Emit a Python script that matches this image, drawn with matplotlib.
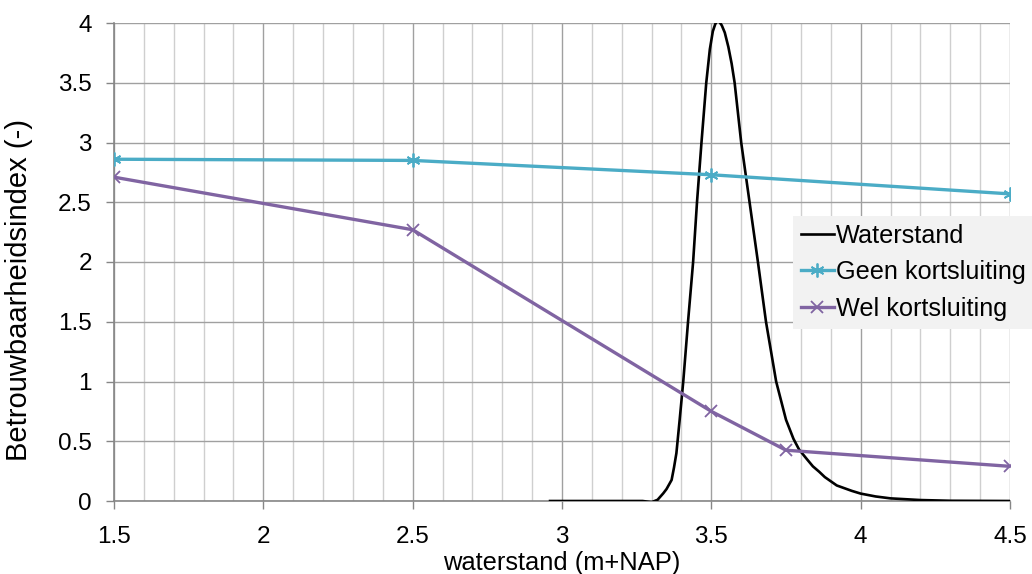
import numpy as np
import matplotlib
matplotlib.use("Agg")
import matplotlib.pyplot as plt
from matplotlib.ticker import MultipleLocator, FuncFormatter

plt.rcParams['font.family'] = ['Liberation Sans', 'DejaVu Sans']

# waterstand distributie
ws_x = [2.96, 3.0, 3.1, 3.2, 3.27, 3.30, 3.32, 3.339, 3.35, 3.367, 3.375, 3.383, 3.394,
        3.406, 3.422, 3.439, 3.452, 3.467, 3.483, 3.495, 3.505, 3.513, 3.52, 3.527,
        3.535, 3.545, 3.557, 3.568, 3.578, 3.60, 3.628, 3.656, 3.683, 3.717, 3.75,
        3.775, 3.794, 3.82, 3.84, 3.861, 3.88, 3.92, 3.97, 4.0, 4.05, 4.1, 4.2, 4.3, 4.5]
ws_y = [0, 0, 0, 0, 0, -0.01, 0.01, 0.064, 0.10, 0.176, 0.28, 0.40, 0.68,
        1.0, 1.5, 2.0, 2.5, 3.0, 3.5, 3.78, 3.93, 3.99, 4.02, 4.01,
        3.98, 3.92, 3.80, 3.66, 3.5, 3.0, 2.5, 2.0, 1.5, 1.0, 0.68,
        0.52, 0.43, 0.35, 0.29, 0.245, 0.2, 0.13, 0.085, 0.062, 0.038, 0.022, 0.008, 0.002, 0]

geen_x = [1.5, 2.5, 3.5, 4.5]
geen_y = [2.86, 2.85, 2.73, 2.57]

wel_x = [1.5, 2.5, 3.5, 3.75, 4.5]
wel_y = [2.71, 2.27, 0.75, 0.425, 0.29]

fig = plt.figure(figsize=(10.32, 5.74), dpi=100)
ax = fig.add_axes([114/1032, 1-501/574, 896/1032, 478/574])

ax.plot(ws_x, ws_y, color='black', lw=1.9, label='Waterstand', zorder=3)
ax.plot(geen_x, geen_y, color='#4BACC6', lw=2.4, marker=(6, 2, 0), ms=10, mew=1.3,
        label='Geen kortsluiting', zorder=4)
ax.plot(wel_x, wel_y, color='#8064A2', lw=2.4, marker='x', ms=8, mew=1.3,
        label='Wel kortsluiting', zorder=4)

ax.set_xlim(1.5, 4.5)
ax.set_ylim(0, 4)
ax.xaxis.set_major_locator(MultipleLocator(0.5))
ax.xaxis.set_minor_locator(MultipleLocator(0.1))
ax.yaxis.set_major_locator(MultipleLocator(0.5))
fmt = FuncFormatter(lambda v, p: '%g' % v)
ax.xaxis.set_major_formatter(fmt)
ax.yaxis.set_major_formatter(fmt)

ax.grid(which='major', color='#A0A0A0', lw=1.0)
ax.grid(which='minor', axis='x', color='#CFCFCF', lw=1.0)
ax.set_axisbelow(True)

for s in ['top', 'right']:
    ax.spines[s].set_visible(False)
for s in ['left', 'bottom']:
    ax.spines[s].set_color('#868686')
    ax.spines[s].set_linewidth(1.2)

ax.tick_params(which='major', axis='both', colors='#868686', labelcolor='black',
               labelsize=17.5, length=6, width=1)
ax.tick_params(which='minor', length=0)
ax.tick_params(axis='x', pad=12)
ax.tick_params(axis='y', pad=10)

ax.set_xlabel('waterstand (m+NAP)', fontsize=18.4, labelpad=2)
ax.set_ylabel('Betrouwbaarheidsindex (-)', fontsize=21)
ax.yaxis.set_label_coords(-0.09, 0.441)

leg = ax.legend(loc='upper left', bbox_to_anchor=(0.758, 0.596), borderaxespad=0,
                fontsize=18.2, frameon=True, fancybox=False, handlelength=1.3,
                handletextpad=0.1, labelspacing=0.5, borderpad=0.3)
leg.get_frame().set_facecolor('#F2F2F2')
leg.get_frame().set_edgecolor('none')
leg.get_frame().set_alpha(1)
leg.set_zorder(5)

fig.savefig('out.png', dpi=100)
